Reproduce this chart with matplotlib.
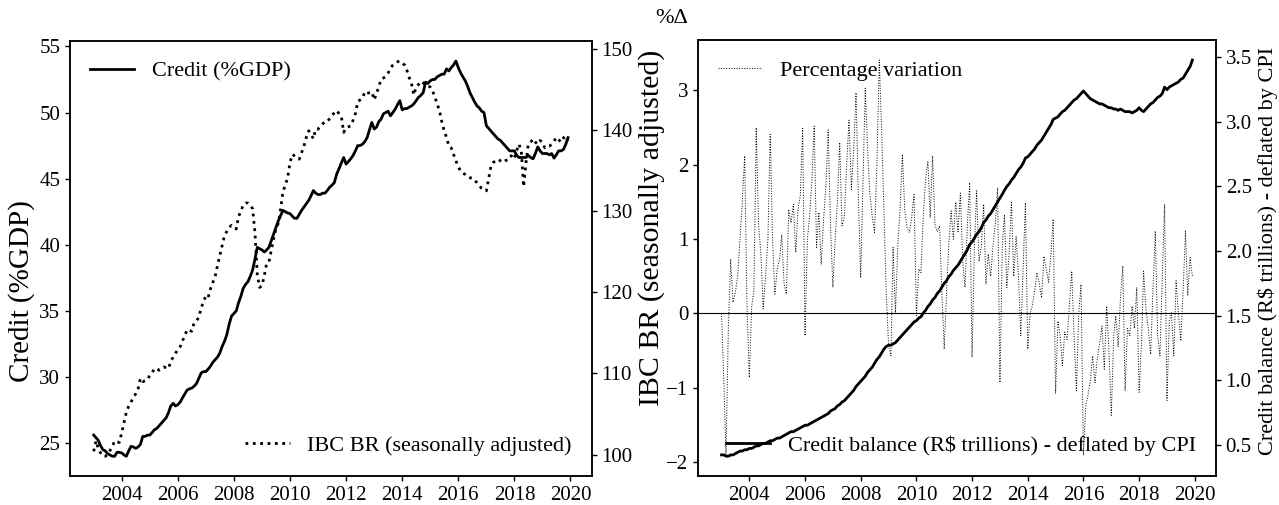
import numpy as np
import pandas as pd
import matplotlib
matplotlib.use("Agg")
import matplotlib.pyplot as plt
import matplotlib.dates as mdates

plt.rcParams['font.family'] = 'serif'
plt.rcParams['font.serif'] = ['Liberation Serif', 'DejaVu Serif']
plt.rcParams['axes.linewidth'] = 1.1
plt.rcParams['xtick.major.width'] = 1.0
plt.rcParams['ytick.major.width'] = 1.0

# monthly data 2003-01 .. 2019-12
dates = pd.date_range('2003-01-01', periods=204, freq='MS')

# Credit (% of GDP)
credit_gdp = [
    25.6, 25.4, 25.2, 24.8, 24.5, 24.4, 24.2, 24.1, 24.0, 24.0, 24.3, 24.3,
    24.25, 24.1, 24.0, 24.4, 24.75, 24.7, 24.6, 24.7, 24.9, 25.5, 25.5, 25.6,
    25.6, 25.8, 26.0, 26.1, 26.3, 26.5, 26.7, 26.9, 27.3, 27.8, 28.0, 27.8,
    27.9, 28.1, 28.4, 28.7, 29.0, 29.1, 29.15, 29.3, 29.5, 29.9, 30.3, 30.4,
    30.4, 30.6, 30.8, 31.1, 31.3, 31.5, 31.8, 32.3, 32.7, 33.2, 34.0, 34.6,
    34.8, 35.0, 35.6, 36.1, 36.7, 37.0, 37.2, 37.6, 38.1, 38.9, 39.8, 39.7,
    39.6, 39.45, 39.6, 39.8, 40.3, 40.8, 41.3, 41.8, 42.2, 42.6, 42.5, 42.4,
    42.35, 42.15, 42.0, 42.0, 42.3, 42.6, 42.85, 43.1, 43.35, 43.7, 44.1, 43.9,
    43.8, 43.8, 43.9, 43.9, 44.1, 44.35, 44.5, 44.7, 45.35, 45.75, 46.2, 46.6,
    46.1, 46.3, 46.5, 46.75, 47.1, 47.5, 47.5, 47.6, 47.8, 48.1, 48.7, 49.25,
    48.75, 48.9, 49.3, 49.5, 49.9, 50.0, 50.1, 49.75, 50.0, 50.25, 50.6, 50.9,
    50.2, 50.3, 50.3, 50.4, 50.5, 50.65, 50.9, 51.15, 51.3, 51.5, 52.3, 52.2,
    52.4, 52.5, 52.5, 52.7, 52.8, 52.9, 52.9, 53.3, 53.15, 53.4, 53.6, 53.9,
    53.4, 53.0, 52.7, 52.4, 52.0, 51.5, 51.15, 50.8, 50.5, 50.35, 50.1, 50.0,
    49.0, 48.8, 48.6, 48.4, 48.2, 48.0, 47.9, 47.7, 47.5, 47.3, 47.1, 47.1,
    47.1, 46.75, 46.6, 46.6, 46.6, 46.6, 46.75, 46.6, 46.5, 46.9, 47.4, 47.1,
    46.9, 46.9, 46.9, 46.8, 46.9, 46.55, 46.8, 47.1, 47.1, 47.2, 47.6, 48.1,
]

# IBC BR (seasonally adjusted)
ibc_br = [
    100.4, 101.7, 100.8, 100.2, 99.8, 99.8, 100.0, 100.5, 101.0, 101.7, 101.6, 101.5,
    102.7, 104.0, 105.2, 106.0, 106.5, 107.0, 107.5, 108.1, 109.4, 109.0, 109.1, 109.2,
    109.8, 110.1, 110.6, 110.6, 110.4, 110.6, 110.8, 110.7, 110.6, 111.5, 112.0, 112.5,
    112.9, 113.3, 114.0, 114.6, 115.4, 115.3, 115.2, 116.25, 116.5, 116.9, 118.1, 118.8,
    119.6, 119.4, 120.4, 121.2, 121.9, 123.3, 124.5, 125.75, 127.0, 127.5, 128.0, 128.25,
    128.0, 127.8, 129.3, 130.0, 130.75, 131.0, 131.0, 130.7, 130.3, 127.4, 122.1, 120.6,
    120.8, 122.1, 123.5, 123.7, 125.1, 126.6, 127.8, 128.5, 130.3, 132.4, 133.2, 134.1,
    136.0, 137.0, 136.8, 136.6, 136.4, 137.2, 138.0, 139.1, 139.9, 139.5, 138.9, 140.1,
    140.1, 140.5, 140.75, 141.0, 141.0, 141.4, 141.8, 142.1, 142.4, 142.0, 141.6, 139.7,
    140.3, 140.4, 140.5, 141.2, 142.0, 143.5, 143.7, 143.9, 144.7, 144.5, 144.6, 144.7,
    143.7, 144.5, 145.3, 146.25, 146.4, 146.6, 147.0, 147.6, 148.0, 148.25, 148.4, 148.5,
    148.25, 148.0, 147.4, 146.5, 145.75, 144.3, 145.3, 145.6, 146.0, 145.8, 145.5, 145.4,
    145.3, 144.8, 144.1, 143.2, 142.4, 141.0, 139.9, 139.1, 138.0, 137.8, 137.0, 136.2,
    135.5, 134.9, 134.7, 134.5, 134.2, 134.1, 134.1, 133.8, 133.5, 133.1, 132.8, 132.6,
    132.5, 134.1, 135.5, 136.0, 136.2, 136.4, 136.2, 136.0, 136.2, 136.3, 136.4, 137.0,
    136.6, 137.5, 138.25, 137.4, 133.0, 136.0, 138.25, 138.5, 138.9, 138.5, 138.25, 138.7,
    138.5, 137.8, 138.0, 138.0, 138.25, 138.6, 139.1, 138.8, 138.5, 139.0, 139.3, 138.5,
]

# monthly percentage variation of credit balance
pct_var = [
    0.0, -0.9, -1.92, -0.2, 0.73, 0.15, 0.28, 0.5, 1.0, 1.5, 2.12, 0.1,
    -0.86, 0.1, 0.3, 2.5, 1.2, 0.8, 0.06, 0.5, 1.0, 2.41, 1.0, 0.26,
    0.6, 0.73, 1.06, 0.4, 0.26, 1.4, 1.22, 1.47, 0.82, 1.4, 1.6, 2.49,
    -0.3, 1.0, 1.3, 1.8, 2.52, 0.89, 1.36, 0.66, 1.26, 1.7, 2.47, 1.2,
    0.35, 1.0, 1.5, 2.3, 1.18, 1.3, 2.0, 2.6, 1.67, 2.2, 2.97, 1.6,
    0.48, 1.8, 3.03, 2.2, 1.6, 1.3, 1.09, 2.0, 3.41, 2.5, 1.4, 0.3,
    -0.43, -0.57, 0.89, 0.0, 0.9, 1.4, 2.14, 1.4, 1.15, 1.09, 1.3, 1.6,
    -0.03, 0.6, 0.55, 1.3, 1.8, 2.05, 1.29, 2.12, 1.2, 1.1, 1.18, 0.3,
    -0.48, 0.3, 0.9, 1.38, 1.0, 1.5, 1.1, 1.62, 0.7, 0.35, 1.2, 1.76,
    -0.59, 0.9, 1.65, 0.7, 0.9, 1.47, 0.39, 0.8, 0.5, 0.9, 1.2, 1.69,
    -0.93, 0.9, 1.33, 0.35, 0.8, 1.51, 0.5, 1.04, 0.5, -0.3, 0.6, 1.49,
    -0.48, 0.0, 0.1, 0.3, 0.55, 0.4, 0.21, 0.77, 0.6, 0.42, 0.8, 1.27,
    -1.08, -0.1, -0.3, -0.7, -0.25, -0.35, 0.1, 0.57, -0.3, -1.04, 0.0, 0.39,
    -1.91, -1.24, -1.1, -0.9, -0.57, -0.93, -0.6, -0.4, -0.17, -0.75, 0.1, -0.5,
    -1.37, -0.3, -0.03, -0.45, 0.2, 0.64, -1.04, -0.2, -0.3, 0.1, -0.2, 0.35,
    -1.06, -0.4, 0.57, 0.05, -0.2, -0.55, 0.3, 1.11, -0.3, -0.57, 0.5, 1.47,
    -1.17, -0.1, 0.01, -0.57, 0.44, 0.0, -0.37, 0.3, 1.11, 0.24, 0.75, 0.5,
]

# credit balance, R$ trillions deflated by CPI
credit_balance = [
    0.42, 0.42, 0.41, 0.41, 0.42, 0.42, 0.43, 0.44, 0.45, 0.45, 0.46, 0.46,
    0.47, 0.47, 0.48, 0.49, 0.49, 0.50, 0.51, 0.51, 0.52, 0.53, 0.53, 0.54,
    0.55, 0.55, 0.56, 0.57, 0.58, 0.59, 0.60, 0.60, 0.61, 0.62, 0.63, 0.64,
    0.65, 0.65, 0.66, 0.67, 0.68, 0.69, 0.70, 0.71, 0.72, 0.73, 0.74, 0.76,
    0.77, 0.78, 0.80, 0.81, 0.83, 0.84, 0.86, 0.88, 0.90, 0.92, 0.95, 0.97,
    0.99, 1.01, 1.03, 1.06, 1.08, 1.10, 1.13, 1.16, 1.18, 1.21, 1.24, 1.26,
    1.27, 1.27, 1.28, 1.29, 1.31, 1.33, 1.35, 1.37, 1.39, 1.41, 1.43, 1.45,
    1.46, 1.48, 1.49, 1.52, 1.54, 1.57, 1.59, 1.62, 1.64, 1.67, 1.69, 1.72,
    1.75, 1.77, 1.80, 1.82, 1.85, 1.87, 1.89, 1.92, 1.95, 1.98, 2.01, 2.05,
    2.07, 2.10, 2.13, 2.15, 2.18, 2.22, 2.24, 2.27, 2.29, 2.32, 2.35, 2.38,
    2.41, 2.44, 2.47, 2.50, 2.52, 2.55, 2.57, 2.60, 2.63, 2.65, 2.68, 2.72,
    2.73, 2.75, 2.77, 2.79, 2.82, 2.84, 2.86, 2.89, 2.92, 2.95, 2.98, 3.02,
    3.03, 3.04, 3.06, 3.08, 3.09, 3.11, 3.13, 3.15, 3.17, 3.18, 3.20, 3.22,
    3.24, 3.22, 3.20, 3.18, 3.17, 3.16, 3.15, 3.14, 3.14, 3.13, 3.12, 3.11,
    3.11, 3.10, 3.10, 3.09, 3.10, 3.09, 3.08, 3.08, 3.08, 3.07, 3.08, 3.09,
    3.11, 3.09, 3.08, 3.10, 3.12, 3.14, 3.15, 3.17, 3.19, 3.20, 3.22, 3.27,
    3.25, 3.27, 3.28, 3.29, 3.30, 3.31, 3.33, 3.34, 3.37, 3.40, 3.43, 3.48,
]

TICK_FS = 15
LEG_FS = 16

fig = plt.figure(figsize=(12.79, 5.05), dpi=100)
ax1 = fig.add_axes([0.0547, 0.0574, 0.408, 0.861])
ax2 = ax1.twinx()
ax3 = fig.add_axes([0.5457, 0.0574, 0.405, 0.863])
ax4 = ax3.twinx()

# left panel
l1, = ax1.plot(dates, credit_gdp, color='k', lw=2, label='Credit (%GDP)')
l2, = ax2.plot(dates, ibc_br, color='k', lw=2, ls=':', label='IBC BR (seasonally adjusted)')
ax1.legend(handles=[l1], loc='upper left', frameon=False, fontsize=LEG_FS)
ax2.legend(handles=[l2], loc='lower right', frameon=False, fontsize=LEG_FS)
ax1.text(-0.092, 0.425, 'Credit (%GDP)', transform=ax1.transAxes, rotation=90,
         ha='center', va='center', fontsize=21)
ax2.text(1.115, 0.57, 'IBC BR (seasonally adjusted)', transform=ax2.transAxes, rotation=90,
         ha='center', va='center', fontsize=21.5)

# right panel
l3, = ax3.plot(dates, pct_var, color='k', lw=0.7, ls=':', label='Percentage variation')
ax3.axhline(0, color='k', lw=0.8)
l4, = ax4.plot(dates, credit_balance, color='k', lw=2, label='Credit balance (R$ trillions) - deflated by CPI')
ax3.legend(handles=[l3], loc='upper left', frameon=False, fontsize=LEG_FS)
ax4.legend(handles=[l4], loc='lower right', frameon=False, fontsize=LEG_FS)
ax3.text(-0.05, 1.05, '%Δ', transform=ax3.transAxes, ha='center', va='center', fontsize=16)
ax4.text(1.10, 0.516, 'Credit balance (R$ trillions) - deflated by CPI', transform=ax4.transAxes,
         rotation=90, ha='center', va='center', fontsize=16)

for ax in (ax1, ax3):
    ax.xaxis.set_major_locator(mdates.YearLocator(2))
    ax.xaxis.set_major_formatter(mdates.DateFormatter('%Y'))
for ax in (ax1, ax2, ax3, ax4):
    ax.tick_params(labelsize=TICK_FS)

fig.savefig('out.png', dpi=100)
